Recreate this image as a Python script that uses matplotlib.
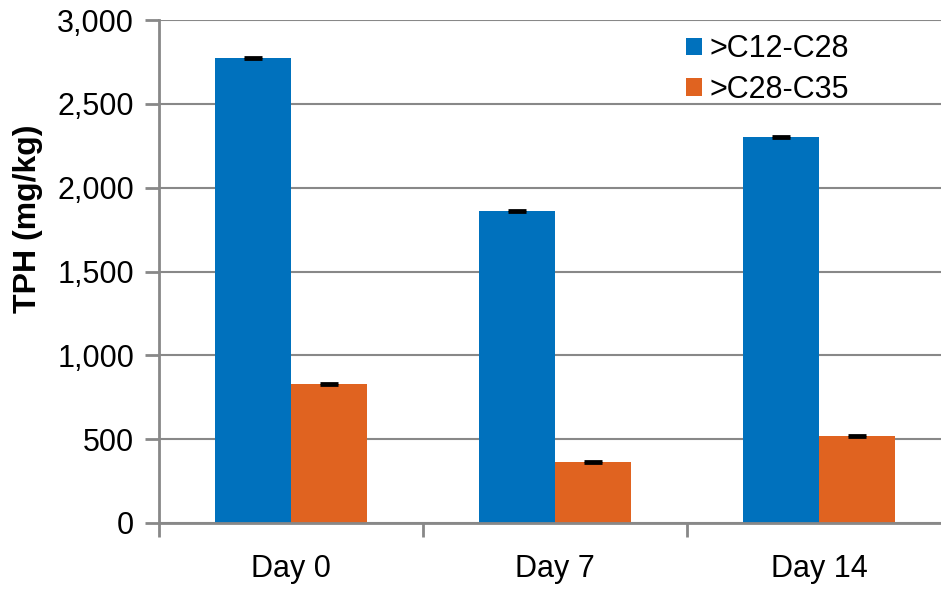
import matplotlib
matplotlib.use('Agg')
import matplotlib.pyplot as plt
import numpy as np

plt.rcParams['font.family'] = ['Liberation Sans', 'DejaVu Sans']

# ========== 数据 ==========
days = ['Day 0', 'Day 7', 'Day 14']
series_names = ['>C12-C28', '>C28-C35']
c12_c28 = [2772, 1860, 2302]
c28_c35 = [830, 365, 520]
c12_c28_err = [6, 5, 5]
c28_c35_err = [5, 5, 5]

colors = ['#0071BD', '#E06320']

fig = plt.figure(figsize=(9.41, 5.92), dpi=100)
ax = fig.add_axes([159 / 941, 69 / 592, 792 / 941, 503 / 592])

x = np.arange(len(days))
w = 0.286
err_kw = dict(ecolor='black', capsize=6.5, capthick=2, elinewidth=1.2)
ax.bar(x - w / 2, c12_c28, w, color=colors[0], label=series_names[0],
       yerr=c12_c28_err, error_kw=err_kw, zorder=3)
ax.bar(x + w / 2, c28_c35, w, color=colors[1], label=series_names[1],
       yerr=c28_c35_err, error_kw=err_kw, zorder=3)

ax.set_xlim(-0.5, 2.5)
ax.set_ylim(0, 3000)
ax.set_yticks(np.arange(0, 3001, 500))
ax.set_yticklabels([f'{v:,}' for v in range(0, 3001, 500)])

# 类别标签居中，刻度线在类别边界
ax.set_xticks(x)
ax.set_xticklabels(days)
ax.set_xticks(np.arange(-0.5, 2.6, 1), minor=True)
ax.tick_params(axis='x', which='major', length=0, labelsize=22, pad=22)
ax.tick_params(axis='x', which='minor', length=10, width=2, color='#888888')
ax.tick_params(axis='y', length=10, width=2, color='#888888', labelsize=22, pad=8)

ax.grid(axis='y', color='#888888', linewidth=1.5, zorder=0)
ax.set_axisbelow(True)
for s in ['top', 'right']:
    ax.spines[s].set_visible(False)
for s in ['left', 'bottom']:
    ax.spines[s].set_color('#888888')
    ax.spines[s].set_linewidth(2)
ax.spines['bottom'].set_zorder(4)

ax.set_ylabel('TPH (mg/kg)', fontsize=23, fontweight='bold')
ax.yaxis.set_label_coords(-0.1465, 0.604)

leg = ax.legend(loc='upper left', bbox_to_anchor=(0.631, 1.026), frameon=False,
                fontsize=22, handlelength=0.52, handleheight=0.52,
                handletextpad=0.23, labelspacing=0.35)

fig.savefig('out.png', dpi=100)
